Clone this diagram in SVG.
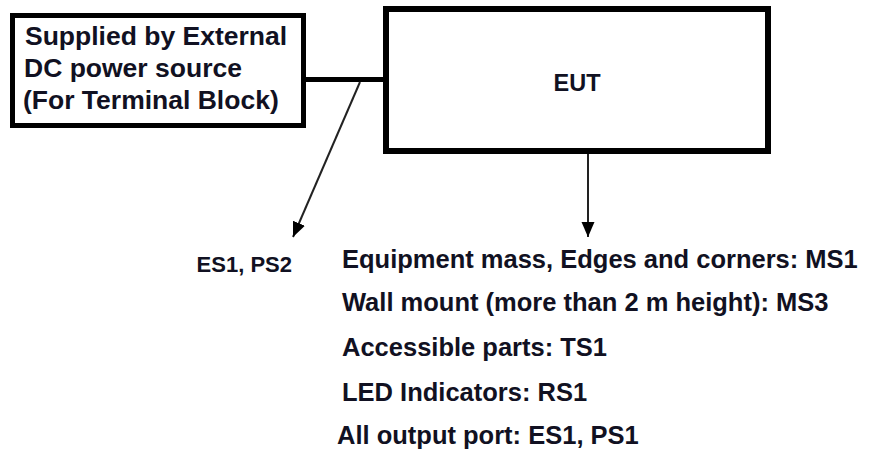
<svg xmlns="http://www.w3.org/2000/svg" width="873" height="457" viewBox="0 0 873 457">
  <style>
    .box { fill: #ffffff; stroke: #000000; }
    .t { font-family: "Liberation Sans", Arial, sans-serif; font-weight: bold; fill: #111122; }
    .wire { stroke: #000000; stroke-width: 5; fill: none; }
    .arrow { stroke: #222222; stroke-width: 2; fill: none; marker-end: url(#ah); }
  </style>
  <defs>
    <marker id="ah" markerUnits="userSpaceOnUse" markerWidth="16" markerHeight="14" refX="15" refY="6.5" orient="auto">
      <path d="M0,0 L15,6.5 L0,13 z" fill="#000000"/>
    </marker>
  </defs>
  <rect width="873" height="457" fill="#ffffff"/>

  <g id="connectors">
    <line class="wire" x1="306" y1="79.5" x2="384" y2="79.5"/>
    <line class="arrow" x1="360" y1="82" x2="293" y2="237"/>
    <line class="arrow" x1="588" y1="154" x2="588" y2="237"/>
  </g>

  <g id="power-source">
    <rect class="box" x="12.5" y="15.5" width="291" height="110" stroke-width="5"/>
    <text class="t" x="25" y="45" font-size="26.5">Supplied by External</text>
    <text class="t" x="24" y="77" font-size="26.5">DC power source</text>
    <text class="t" x="23" y="109" font-size="26.5">(For Terminal Block)</text>
  </g>

  <g id="eut">
    <rect class="box" x="386" y="9" width="382" height="142" stroke-width="6"/>
    <text class="t" x="577" y="91" font-size="23.5" text-anchor="middle">EUT</text>
  </g>

  <g id="power-label">
    <text class="t" x="292" y="272" font-size="22" text-anchor="end">ES1, PS2</text>
  </g>

  <g id="eut-labels">
    <text class="t" x="342" y="268" font-size="25.5">Equipment mass, Edges and corners: MS1</text>
    <text class="t" x="342" y="311" font-size="25.5">Wall mount (more than 2 m height): MS3</text>
    <text class="t" x="342" y="356" font-size="25.5">Accessible parts: TS1</text>
    <text class="t" x="342" y="401" font-size="25.5">LED Indicators: RS1</text>
    <text class="t" x="337" y="444" font-size="25.5">All output port: ES1, PS1</text>
  </g>
</svg>
